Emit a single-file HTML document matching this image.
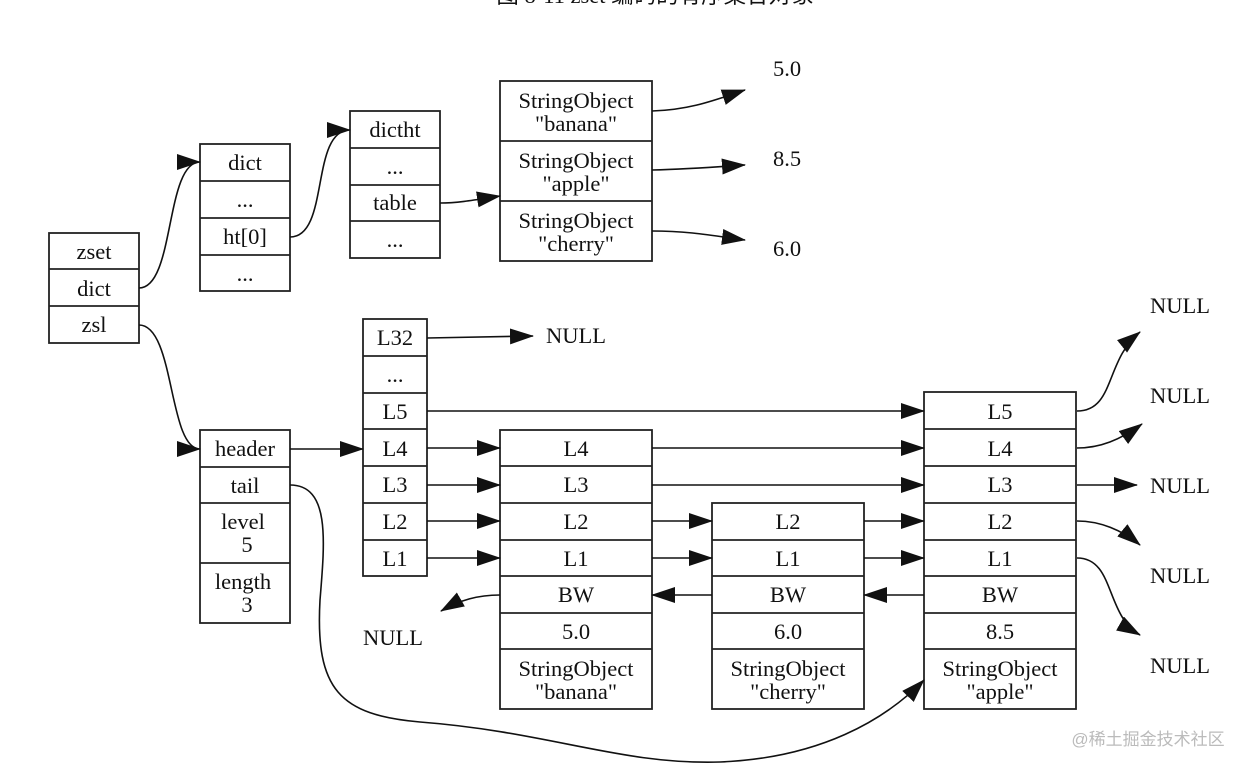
<!DOCTYPE html>
<html><head><meta charset="utf-8"><style>
html,body{margin:0;padding:0;background:#fff;}
svg{display:block;}
text{font-family:"Liberation Serif","Noto Serif CJK SC",serif;font-size:22.5px;fill:#111;text-anchor:middle;}
rect,line.s{fill:none;stroke:#222;stroke-width:1.8;}
path.e{fill:none;stroke:#111;stroke-width:1.6;}
</style></head><body>
<svg width="1250" height="769" viewBox="0 0 1250 769" xmlns="http://www.w3.org/2000/svg">
<defs><marker id="a" markerWidth="24" markerHeight="16" refX="23" refY="8" orient="auto" markerUnits="userSpaceOnUse"><path d="M0,0 L24,8 L0,16 z" fill="#111"/></marker></defs>
<text x="655" y="3" style="font-family:'Liberation Serif','Noto Sans CJK SC',serif">图 8-11 zset 编码的有序集合对象</text>

<rect x="49" y="233" width="90" height="110"/>
<line class="s" x1="49" y1="269" x2="139" y2="269"/><line class="s" x1="49" y1="306" x2="139" y2="306"/>
<text x="94" y="259">zset</text><text x="94" y="296">dict</text><text x="94" y="332">zsl</text>

<rect x="200" y="144" width="90" height="147"/>
<line class="s" x1="200" y1="181" x2="290" y2="181"/><line class="s" x1="200" y1="218" x2="290" y2="218"/><line class="s" x1="200" y1="255" x2="290" y2="255"/>
<text x="245" y="170">dict</text><text x="245" y="207">...</text><text x="245" y="244">ht[0]</text><text x="245" y="281">...</text>

<rect x="350" y="111" width="90" height="147"/>
<line class="s" x1="350" y1="148" x2="440" y2="148"/><line class="s" x1="350" y1="185" x2="440" y2="185"/><line class="s" x1="350" y1="221" x2="440" y2="221"/>
<text x="395" y="137">dictht</text><text x="395" y="174">...</text><text x="395" y="210">table</text><text x="395" y="247">...</text>

<rect x="500" y="81" width="152" height="180"/>
<line class="s" x1="500" y1="141" x2="652" y2="141"/><line class="s" x1="500" y1="201" x2="652" y2="201"/>
<text x="576" y="108">StringObject</text><text x="576" y="131">"banana"</text>
<text x="576" y="168">StringObject</text><text x="576" y="191">"apple"</text>
<text x="576" y="228">StringObject</text><text x="576" y="251">"cherry"</text>
<text x="787" y="76">5.0</text><text x="787" y="166">8.5</text><text x="787" y="256">6.0</text>

<rect x="363" y="319" width="64" height="257"/>
<line class="s" x1="363" y1="356" x2="427" y2="356"/><line class="s" x1="363" y1="393" x2="427" y2="393"/><line class="s" x1="363" y1="429" x2="427" y2="429"/><line class="s" x1="363" y1="466" x2="427" y2="466"/><line class="s" x1="363" y1="503" x2="427" y2="503"/><line class="s" x1="363" y1="540" x2="427" y2="540"/>
<text x="395" y="345">L32</text><text x="395" y="382">...</text><text x="395" y="419">L5</text><text x="395" y="456">L4</text><text x="395" y="492">L3</text><text x="395" y="529">L2</text><text x="395" y="566">L1</text>
<text x="576" y="343">NULL</text>

<rect x="200" y="430" width="90" height="193"/>
<line class="s" x1="200" y1="467" x2="290" y2="467"/><line class="s" x1="200" y1="503" x2="290" y2="503"/><line class="s" x1="200" y1="563" x2="290" y2="563"/>
<text x="245" y="456">header</text><text x="245" y="493">tail</text><text x="243" y="529">level</text><text x="247" y="552">5</text><text x="243" y="589">length</text><text x="247" y="612">3</text>

<rect x="500" y="430" width="152" height="279"/>
<line class="s" x1="500" y1="466" x2="652" y2="466"/><line class="s" x1="500" y1="503" x2="652" y2="503"/><line class="s" x1="500" y1="540" x2="652" y2="540"/><line class="s" x1="500" y1="576" x2="652" y2="576"/><line class="s" x1="500" y1="613" x2="652" y2="613"/><line class="s" x1="500" y1="649" x2="652" y2="649"/>
<text x="576" y="456">L4</text><text x="576" y="492">L3</text><text x="576" y="529">L2</text><text x="576" y="566">L1</text><text x="576" y="602">BW</text><text x="576" y="639">5.0</text><text x="576" y="676">StringObject</text><text x="576" y="699">"banana"</text>

<rect x="712" y="503" width="152" height="206"/>
<line class="s" x1="712" y1="540" x2="864" y2="540"/><line class="s" x1="712" y1="576" x2="864" y2="576"/><line class="s" x1="712" y1="613" x2="864" y2="613"/><line class="s" x1="712" y1="649" x2="864" y2="649"/>
<text x="788" y="529">L2</text><text x="788" y="566">L1</text><text x="788" y="602">BW</text><text x="788" y="639">6.0</text><text x="788" y="676">StringObject</text><text x="788" y="699">"cherry"</text>

<rect x="924" y="392" width="152" height="317"/>
<line class="s" x1="924" y1="429" x2="1076" y2="429"/><line class="s" x1="924" y1="466" x2="1076" y2="466"/><line class="s" x1="924" y1="503" x2="1076" y2="503"/><line class="s" x1="924" y1="540" x2="1076" y2="540"/><line class="s" x1="924" y1="576" x2="1076" y2="576"/><line class="s" x1="924" y1="613" x2="1076" y2="613"/><line class="s" x1="924" y1="649" x2="1076" y2="649"/>
<text x="1000" y="419">L5</text><text x="1000" y="456">L4</text><text x="1000" y="492">L3</text><text x="1000" y="529">L2</text><text x="1000" y="566">L1</text><text x="1000" y="602">BW</text><text x="1000" y="639">8.5</text><text x="1000" y="676">StringObject</text><text x="1000" y="699">"apple"</text>

<text x="1180" y="313">NULL</text><text x="1180" y="403">NULL</text><text x="1180" y="493">NULL</text><text x="1180" y="583">NULL</text><text x="1180" y="673">NULL</text>
<text x="393" y="645">NULL</text>

<g marker-end="url(#a)">
<path class="e" d="M139,288 C175,288 165,162 200,162"/>
<path class="e" d="M290,237 C330,237 310,130 350,130"/>
<path class="e" d="M440,203 C460,203 480,199 500,196"/>
<path class="e" d="M652,111 C690,110 715,100 745,90"/>
<path class="e" d="M652,170 C690,169 715,167 745,165"/>
<path class="e" d="M652,231 C690,231 715,236 745,240"/>
<path class="e" d="M139,325 C175,325 168,449 200,449"/>
<path class="e" d="M290,449 L363,449"/>
<path class="e" d="M427,338 L533,336"/>
<path class="e" d="M427,411 L924,411"/>
<path class="e" d="M427,448 L500,448"/><path class="e" d="M652,448 L924,448"/>
<path class="e" d="M427,485 L500,485"/><path class="e" d="M652,485 L924,485"/>
<path class="e" d="M427,521 L500,521"/><path class="e" d="M652,521 L712,521"/><path class="e" d="M864,521 L924,521"/>
<path class="e" d="M427,558 L500,558"/><path class="e" d="M652,558 L712,558"/><path class="e" d="M864,558 L924,558"/>
<path class="e" d="M500,595 C478,595 460,600 441,611"/>
<path class="e" d="M712,595 L652,595"/>
<path class="e" d="M924,595 L864,595"/>
<path class="e" d="M290,485 C330,485 325,540 320,600 C315,690 340,715 420,722 C550,732 620,765 720,762 C820,758 885,720 924,680"/>
<path class="e" d="M1077,411 C1115,411 1105,360 1140,332"/>
<path class="e" d="M1077,448 C1100,448 1120,440 1142,424"/>
<path class="e" d="M1077,485 L1137,485"/>
<path class="e" d="M1077,521 C1100,521 1122,530 1140,545"/>
<path class="e" d="M1077,558 C1115,558 1105,615 1140,635"/>
</g>
<text x="1148" y="745" style="font-family:'Liberation Sans','Noto Sans CJK SC',sans-serif;font-size:17px;fill:#bbb">@稀土掘金技术社区</text>
</svg>
</body></html>
